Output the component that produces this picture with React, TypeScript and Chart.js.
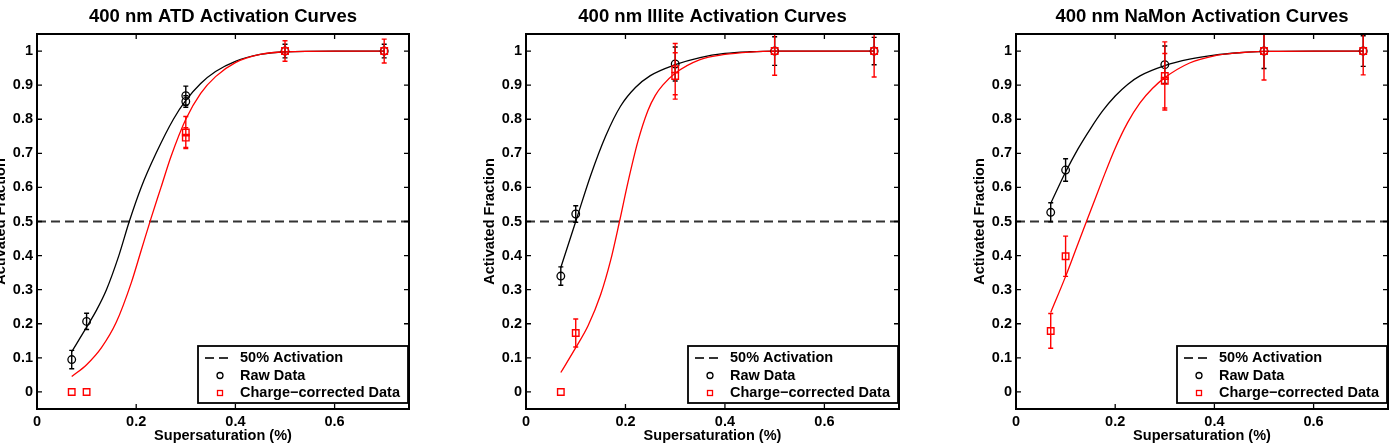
import React, { useEffect, useRef } from "react";
import { Chart, registerables } from "chart.js";

Chart.register(...registerables);

const FONT = '"Liberation Sans", Arial, Helvetica, sans-serif';

// Axes
const xTicks = [0, 0.2, 0.4, 0.6];
const yTicks = [0, 0.1, 0.2, 0.3, 0.4, 0.5, 0.6, 0.7, 0.8, 0.9, 1];
const xLimits = [0, 0.75];
const yLimits = [-0.05, 1.05];
const halfActivation = 0.5;
const xTitle = "Supersaturation (%)";
const yTitle = "Activated Fraction";
const legendLabels = ["50% Activation", "Raw Data", "Charge\u2212corrected Data"];
const panelTitles = [
  "400 nm ATD Activation Curves",
  "400 nm Illite Activation Curves",
  "400 nm NaMon Activation Curves",
];

// ATD measurements
const atdRawSS = [0.07, 0.1, 0.3, 0.3, 0.5, 0.7];
const atdRawAF = [0.095, 0.207, 0.869, 0.852, 1.0, 1.0];
const atdRawErr = [0.027, 0.024, 0.028, 0.017, 0.02, 0.02];
const atdCorrSS = [0.07, 0.1, 0.3, 0.3, 0.5, 0.7];
const atdCorrAF = [0, 0, 0.761, 0.746, 1.0, 1.0];
const atdCorrErr = [0, 0, 0.047, 0.029, 0.03, 0.035];
// ATD fitted curves
const atdRawFitSS = [0.07, 0.1, 0.12, 0.14, 0.165, 0.186, 0.21, 0.24, 0.275, 0.3, 0.33, 0.36, 0.4, 0.45, 0.5, 0.6, 0.7];
const atdRawFitAF = [0.118, 0.19, 0.24, 0.3, 0.4, 0.5, 0.6, 0.7, 0.8, 0.855, 0.905, 0.94, 0.97, 0.99, 0.998, 1.0, 1.0];
const atdCorrFitSS = [0.07, 0.1, 0.13, 0.16, 0.19, 0.21, 0.23, 0.25, 0.27, 0.3, 0.33, 0.36, 0.4, 0.45, 0.5, 0.6, 0.7];
const atdCorrFitAF = [0.045, 0.08, 0.13, 0.205, 0.32, 0.415, 0.51, 0.6, 0.69, 0.8, 0.876, 0.925, 0.966, 0.99, 0.998, 1.0, 1.0];

// Illite measurements
const illRawSS = [0.07, 0.1, 0.3, 0.5, 0.7];
const illRawAF = [0.34, 0.522, 0.962, 1.0, 1.0];
const illRawErr = [0.027, 0.024, 0.05, 0.042, 0.04];
const illCorrSS = [0.07, 0.1, 0.3, 0.3, 0.5, 0.7];
const illCorrAF = [0, 0.173, 0.947, 0.927, 1.0, 1.0];
const illCorrErr = [0, 0.041, 0.075, 0.068, 0.071, 0.076];
// Illite fitted curves
const illRawFitSS = [0.07, 0.1, 0.13, 0.16, 0.19, 0.22, 0.25, 0.3, 0.35, 0.4, 0.45, 0.5, 0.6, 0.7];
const illRawFitAF = [0.365, 0.5, 0.635, 0.75, 0.838, 0.893, 0.928, 0.96, 0.981, 0.993, 0.998, 1.0, 1.0, 1.0];
const illCorrFitSS = [0.07, 0.1, 0.125, 0.15, 0.17, 0.188, 0.205, 0.225, 0.245, 0.26, 0.275, 0.3, 0.35, 0.4, 0.45, 0.5, 0.6, 0.7];
const illCorrFitAF = [0.057, 0.13, 0.195, 0.285, 0.385, 0.5, 0.615, 0.735, 0.825, 0.87, 0.9, 0.935, 0.975, 0.99, 0.997, 1.0, 1.0, 1.0];

// NaMon measurements
const namRawSS = [0.07, 0.1, 0.3, 0.5, 0.7];
const namRawAF = [0.527, 0.651, 0.96, 1.0, 1.0];
const namRawErr = [0.028, 0.033, 0.055, 0.051, 0.045];
const namCorrSS = [0.07, 0.1, 0.3, 0.3, 0.5, 0.7];
const namCorrAF = [0.179, 0.398, 0.927, 0.913, 1.0, 1.0];
const namCorrErr = [0.051, 0.059, 0.1, 0.08, 0.085, 0.07];
// NaMon fitted curves
const namRawFitSS = [0.07, 0.1, 0.125, 0.15, 0.175, 0.2, 0.225, 0.25, 0.3, 0.35, 0.4, 0.45, 0.5, 0.6, 0.7];
const namRawFitAF = [0.553, 0.645, 0.713, 0.772, 0.825, 0.868, 0.902, 0.927, 0.957, 0.976, 0.988, 0.995, 0.999, 1.0, 1.0];
const namCorrFitSS = [0.07, 0.1, 0.125, 0.15, 0.175, 0.2, 0.225, 0.25, 0.275, 0.3, 0.35, 0.4, 0.45, 0.5, 0.6, 0.7];
const namCorrFitAF = [0.233, 0.339, 0.435, 0.53, 0.625, 0.715, 0.79, 0.848, 0.89, 0.922, 0.965, 0.986, 0.995, 0.999, 1.0, 1.0];

const RED = "#ff0000";
const BLACK = "#000000";

type Series = { ss: number[]; af: number[]; err?: number[] };
type PanelDef = {
  title: string;
  raw: Series;
  corr: Series;
  rawFit: Series;
  corrFit: Series;
  left: number;
  width: number;
  axisWidth: number;
  padRight: number;
};

const panels: PanelDef[] = [
  {
    title: panelTitles[0],
    raw: { ss: atdRawSS, af: atdRawAF, err: atdRawErr },
    corr: { ss: atdCorrSS, af: atdCorrAF, err: atdCorrErr },
    rawFit: { ss: atdRawFitSS, af: atdRawFitAF },
    corrFit: { ss: atdCorrFitSS, af: atdCorrFitAF },
    left: 0, width: 460, axisWidth: 37, padRight: 51,
  },
  {
    title: panelTitles[1],
    raw: { ss: illRawSS, af: illRawAF, err: illRawErr },
    corr: { ss: illCorrSS, af: illCorrAF, err: illCorrErr },
    rawFit: { ss: illRawFitSS, af: illRawFitAF },
    corrFit: { ss: illCorrFitSS, af: illCorrFitAF },
    left: 460, width: 490, axisWidth: 66, padRight: 51,
  },
  {
    title: panelTitles[2],
    raw: { ss: namRawSS, af: namRawAF, err: namRawErr },
    corr: { ss: namCorrSS, af: namCorrAF, err: namCorrErr },
    rawFit: { ss: namRawFitSS, af: namRawFitAF },
    corrFit: { ss: namCorrFitSS, af: namCorrFitAF },
    left: 950, width: 444, axisWidth: 66, padRight: 6,
  },
];

const toPoints = (s: Series) => s.ss.map((x, i) => ({ x, y: s.af[i] }));

function drawErrorBars(chart: any, s: Series, color: string) {
  const { ctx, chartArea: a } = chart;
  const xs = chart.scales.x;
  const ys = chart.scales.y;
  ctx.save();
  ctx.beginPath();
  ctx.rect(a.left, a.top, a.right - a.left, a.bottom - a.top);
  ctx.clip();
  ctx.strokeStyle = color;
  ctx.lineWidth = 1.4;
  ctx.beginPath();
  s.ss.forEach((x, i) => {
    const e = s.err ? s.err[i] : 0;
    if (!e) return;
    const px = xs.getPixelForValue(x);
    const top = ys.getPixelForValue(s.af[i] + e);
    const bot = ys.getPixelForValue(s.af[i] - e);
    ctx.moveTo(px, top);
    ctx.lineTo(px, bot);
    ctx.moveTo(px - 2.5, top);
    ctx.lineTo(px + 2.5, top);
    ctx.moveTo(px - 2.5, bot);
    ctx.lineTo(px + 2.5, bot);
  });
  ctx.stroke();
  ctx.restore();
}

function Panel({ def }: { def: PanelDef }) {
  const ref = useRef<HTMLCanvasElement | null>(null);

  useEffect(() => {
    if (!ref.current) return;
    const tickFont = { family: FONT, size: 14.5, weight: "bold" as const };

    const framePlugin = {
      id: "frame",
      afterDatasetDraw(chart: any, args: any) {
        if (args.index === 0) drawErrorBars(chart, def.corr, RED);
        if (args.index === 1) drawErrorBars(chart, def.raw, BLACK);
      },
      afterDraw(chart: any) {
        const { ctx, chartArea: a } = chart;
        const xs = chart.scales.x;
        const ys = chart.scales.y;
        ctx.save();

        // inward tick marks on all four sides
        ctx.strokeStyle = BLACK;
        ctx.lineWidth = 1.3;
        ctx.beginPath();
        xTicks.forEach((v) => {
          const px = xs.getPixelForValue(v);
          ctx.moveTo(px, a.bottom);
          ctx.lineTo(px, a.bottom - 5);
          ctx.moveTo(px, a.top);
          ctx.lineTo(px, a.top + 5);
        });
        yTicks.forEach((v) => {
          const py = ys.getPixelForValue(v);
          ctx.moveTo(a.left, py);
          ctx.lineTo(a.left + 5, py);
          ctx.moveTo(a.right, py);
          ctx.lineTo(a.right - 5, py);
        });
        ctx.stroke();

        // legend box, lower right
        const lw = 210;
        const lh = 57;
        const lx = a.right - 1 - lw;
        const ly = a.bottom - 6 - lh;
        ctx.fillStyle = "#ffffff";
        ctx.fillRect(lx, ly, lw, lh);
        ctx.lineWidth = 1.8;
        ctx.strokeStyle = BLACK;
        ctx.strokeRect(lx, ly, lw, lh);
        const rows = [ly + 12, ly + 29.5, ly + 47];
        ctx.save();
        ctx.strokeStyle = "#333333";
        ctx.lineWidth = 1.8;
        ctx.setLineDash([9, 5]);
        ctx.beginPath();
        ctx.moveTo(lx + 7, rows[0]);
        ctx.lineTo(lx + 35, rows[0]);
        ctx.stroke();
        ctx.restore();
        ctx.lineWidth = 1.3;
        ctx.strokeStyle = BLACK;
        ctx.beginPath();
        ctx.arc(lx + 22, rows[1], 3, 0, Math.PI * 2);
        ctx.stroke();
        ctx.strokeStyle = RED;
        ctx.strokeRect(lx + 19.5, rows[2] - 2.5, 5, 5);
        ctx.fillStyle = BLACK;
        ctx.font = `bold 14.5px ${FONT}`;
        ctx.textAlign = "left";
        ctx.textBaseline = "middle";
        legendLabels.forEach((t, i) => ctx.fillText(t, lx + 42, rows[i]));

        // plot box
        ctx.lineWidth = 2;
        ctx.strokeStyle = BLACK;
        ctx.strokeRect(a.left, a.top, a.right - a.left, a.bottom - a.top);

        // titles
        const cx = (a.left + a.right) / 2;
        const cy = (a.top + a.bottom) / 2;
        ctx.fillStyle = BLACK;
        ctx.textAlign = "center";
        ctx.textBaseline = "middle";
        ctx.font = `bold 18.5px ${FONT}`;
        ctx.fillText(def.title, cx, 17);
        ctx.font = `bold 14.5px ${FONT}`;
        ctx.fillText(xTitle, cx, 436);
        ctx.translate(a.left - 36, cy);
        ctx.rotate(-Math.PI / 2);
        ctx.fillText(yTitle, 0, 0);
        ctx.restore();
      },
    };

    const chart = new Chart(ref.current, {
      type: "scatter",
      data: {
        datasets: [
          {
            label: legendLabels[2],
            data: toPoints(def.corr),
            pointStyle: "rect",
            pointRadius: 4.6,
            borderColor: RED,
            backgroundColor: "transparent",
            borderWidth: 1.4,
          },
          {
            label: legendLabels[1],
            data: toPoints(def.raw),
            pointStyle: "circle",
            pointRadius: 3.8,
            borderColor: BLACK,
            backgroundColor: "transparent",
            borderWidth: 1.3,
          },
          {
            label: "corrected fit",
            data: toPoints(def.corrFit),
            showLine: true,
            pointRadius: 0,
            borderColor: RED,
            borderWidth: 1.3,
            cubicInterpolationMode: "monotone",
          },
          {
            label: "raw fit",
            data: toPoints(def.rawFit),
            showLine: true,
            pointRadius: 0,
            borderColor: BLACK,
            borderWidth: 1.3,
            cubicInterpolationMode: "monotone",
          },
          {
            label: legendLabels[0],
            data: [
              { x: xLimits[0], y: halfActivation },
              { x: xLimits[1], y: halfActivation },
            ],
            showLine: true,
            pointRadius: 0,
            borderColor: "#333333",
            borderWidth: 1.8,
            borderDash: [9, 5],
          },
        ],
      } as any,
      options: {
        animation: false,
        responsive: false,
        events: [],
        layout: { padding: { top: 34, right: def.padRight, bottom: 0, left: 0 } },
        plugins: {
          legend: { display: false },
          title: { display: false },
          tooltip: { enabled: false },
        },
        scales: {
          x: {
            type: "linear",
            position: "bottom",
            min: xLimits[0],
            max: xLimits[1],
            grid: { display: false, drawTicks: false },
            border: { display: false },
            ticks: {
              font: tickFont,
              color: BLACK,
              padding: 4,
              maxRotation: 0,
              includeBounds: false,
              callback: (v: any) => String(v),
            },
            afterBuildTicks: (s: any) => {
              s.ticks = xTicks.map((value) => ({ value }));
            },
            afterFit: (s: any) => {
              s.height = 36;
            },
          },
          y: {
            type: "linear",
            position: "left",
            min: yLimits[0],
            max: yLimits[1],
            grid: { display: false, drawTicks: false },
            border: { display: false },
            ticks: {
              font: tickFont,
              color: BLACK,
              padding: 4,
              includeBounds: false,
              callback: (v: any) => String(v),
            },
            afterBuildTicks: (s: any) => {
              s.ticks = yTicks.map((value) => ({ value }));
            },
            afterFit: (s: any) => {
              s.width = def.axisWidth;
            },
          },
        },
      } as any,
      plugins: [framePlugin],
    });

    return () => chart.destroy();
  }, [def]);

  return (
    <canvas
      ref={ref}
      width={def.width}
      height={445}
      style={{ position: "absolute", left: def.left, top: 0, width: def.width, height: 445 }}
    />
  );
}

export default function App() {
  return (
    <div style={{ position: "absolute", left: 0, top: 0, width: 1394, height: 445, background: "#ffffff" }}>
      {panels.map((p) => (
        <Panel key={p.title} def={p} />
      ))}
    </div>
  );
}
